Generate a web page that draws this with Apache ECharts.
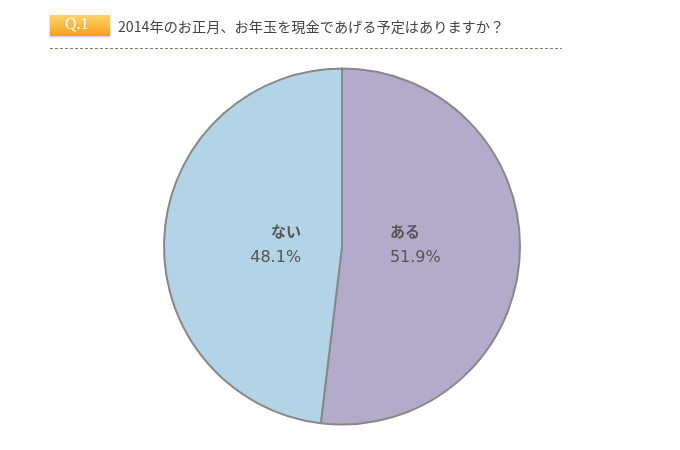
<!DOCTYPE html>
<html>
<head>
<meta charset="utf-8">
<script src="https://cdn.jsdelivr.net/npm/echarts@6/dist/echarts.min.js"></script>
<style>
  html, body { margin: 0; padding: 0; background: #fff; }
  #main { width: 680px; height: 450px; }
</style>
</head>
<body>
<div id="main"></div>
<script>
// 回答データ
const answers = ['ある', 'ない'];
const shares = [51.9, 48.1];
const sliceColors = ['#b4abcb', '#b3d4e7'];
const titleText = '2014年のお正月、お年玉を現金であげる予定はありますか？';

const chart = echarts.init(document.getElementById('main'));

const pieData = answers.map((name, i) => ({
    name: name,
    value: shares[i],
    itemStyle: { color: sliceColors[i] }
}));

// ラベル用（透明の内側円）
const labelData = answers.map((name, i) => ({
    name: name,
    value: shares[i]
}));

const option = {
    backgroundColor: '#fff',
    animation: false,
    graphic: [
        {
            type: 'rect',
            left: 50, top: 15,
            shape: { width: 60, height: 21 },
            style: {
                fill: new echarts.graphic.LinearGradient(0, 0, 0, 1, [
                    { offset: 0, color: '#ffd36b' },
                    { offset: 1, color: '#f6a01a' }
                ]),
                shadowBlur: 2, shadowColor: 'rgba(0,0,0,0.25)', shadowOffsetY: 1
            }
        },
        {
            type: 'text',
            left: 65, top: 17,
            style: { text: 'Q.1', fill: '#fff', font: '16px "Liberation Serif", serif' }
        },
        {
            type: 'text',
            left: 118, top: 20,
            style: { text: titleText, fill: '#444', font: '14.2px "Noto Sans CJK JP", sans-serif' }
        },
        {
            type: 'line',
            shape: { x1: 50, y1: 48.5, x2: 562, y2: 48.5 },
            style: { stroke: '#8a7a6a', lineWidth: 1, lineDash: [3, 2] }
        }
    ],
    series: [
        {
            type: 'pie',
            center: [342, 246.5],
            radius: 178,
            startAngle: 90,
            clockwise: true,
            silent: true,
            label: { show: false },
            labelLine: { show: false },
            itemStyle: { borderColor: '#888', borderWidth: 2 },
            data: pieData
        },
        {
            type: 'pie',
            center: [342, 246.5],
            radius: 90,
            startAngle: 90,
            clockwise: true,
            silent: true,
            itemStyle: { color: 'rgba(0,0,0,0)', borderWidth: 0 },
            label: {
                show: true,
                position: 'inside',
                formatter: '{n|{b}}\n{p|{c}%}',
                color: '#555',
                rich: {
                    n: { fontSize: 15, fontWeight: 'bold', lineHeight: 26, color: '#555',
                         fontFamily: '"Noto Sans CJK JP", sans-serif' },
                    p: { fontSize: 16, lineHeight: 26, color: '#555',
                         fontFamily: '"DejaVu Sans", sans-serif' }
                }
            },
            // 右側は左揃え、左側は右揃え
            labelLayout: function (params) {
                return params.dataIndex === 0
                    ? { align: 'left', dy: -5 }
                    : { align: 'right', dx: 7, dy: 1 };
            },
            labelLine: { show: false },
            data: labelData
        }
    ]
};

chart.setOption(option);
</script>
</body>
</html>
